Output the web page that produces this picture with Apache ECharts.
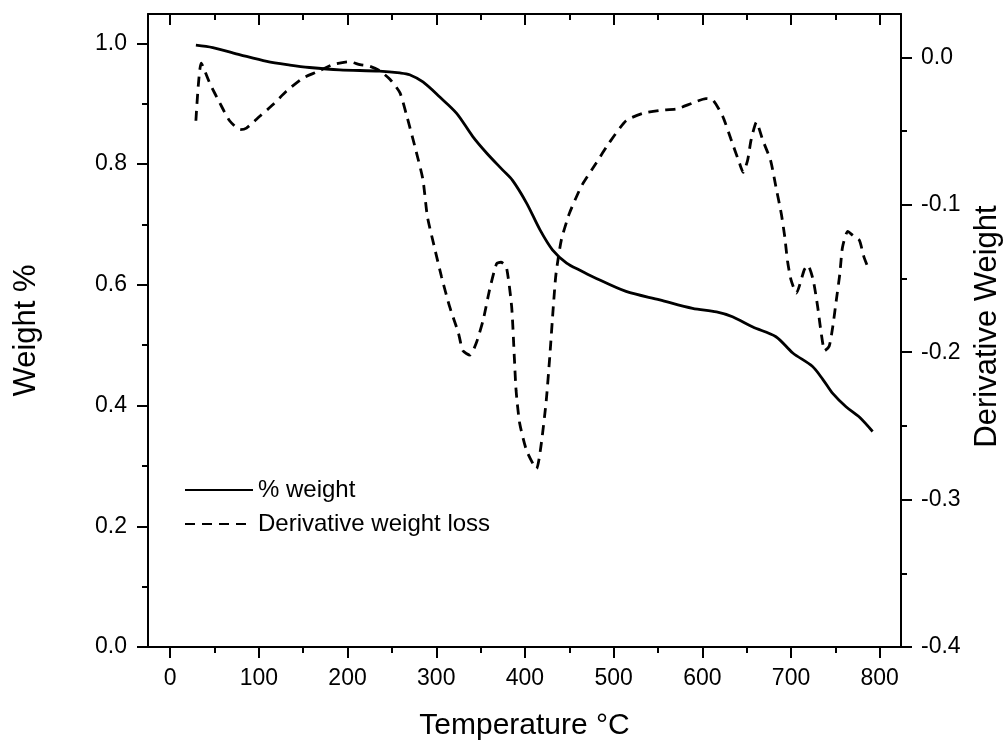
<!DOCTYPE html>
<html>
<head>
<meta charset="utf-8">
<script src="https://cdn.jsdelivr.net/npm/echarts@6/dist/echarts.min.js"></script>
<style>
html,body{margin:0;padding:0;background:#fff;}
#chart{width:1003px;height:740px;}
</style>
</head>
<body>
<div id="chart"></div>
<script>
// Weight % curve (solid)
const tempW = [29, 48, 79, 109, 135, 157, 191, 236, 259, 270, 285, 304, 323, 341, 357, 375, 386, 402, 417, 431, 447, 462, 477, 514, 552, 589, 616, 634, 657, 683, 702, 724, 736, 747, 762, 777, 792];
const weight = [0.997, 0.993, 0.981, 0.970, 0.964, 0.960, 0.956, 0.954, 0.951, 0.948, 0.936, 0.911, 0.884, 0.846, 0.818, 0.790, 0.773, 0.735, 0.691, 0.658, 0.636, 0.624, 0.613, 0.589, 0.575, 0.561, 0.555, 0.547, 0.530, 0.514, 0.487, 0.465, 0.443, 0.420, 0.398, 0.381, 0.357];

// Derivative weight loss curve (dashed)
const tempD = [29, 35, 45, 56, 67, 79, 86, 101, 116, 131, 150, 165, 183, 202, 214, 225, 236, 248, 259, 266, 277, 285, 290, 298, 306, 315, 325, 330, 338, 345, 353, 360, 368, 373, 379, 385, 388, 390, 394, 402, 413, 418, 424, 428, 432, 435, 441, 450, 460, 465, 480, 495, 514, 533, 552, 571, 589, 604, 612, 623, 632, 642, 646, 651, 655, 661, 668, 677, 683, 689, 693, 696, 700, 706, 715, 719, 725, 730, 734, 738, 743, 747, 751, 755, 758, 764, 770, 777, 782, 787];
const deriv = [-0.043, -0.004, -0.018, -0.031, -0.043, -0.049, -0.048, -0.040, -0.032, -0.023, -0.014, -0.010, -0.005, -0.003, -0.005, -0.006, -0.009, -0.015, -0.024, -0.038, -0.063, -0.083, -0.108, -0.129, -0.149, -0.169, -0.187, -0.199, -0.202, -0.194, -0.178, -0.158, -0.140, -0.139, -0.142, -0.169, -0.203, -0.226, -0.248, -0.267, -0.279, -0.264, -0.233, -0.203, -0.169, -0.147, -0.124, -0.106, -0.092, -0.086, -0.072, -0.058, -0.043, -0.038, -0.036, -0.035, -0.031, -0.028, -0.029, -0.040, -0.055, -0.072, -0.078, -0.070, -0.056, -0.044, -0.056, -0.070, -0.088, -0.106, -0.122, -0.138, -0.151, -0.160, -0.144, -0.141, -0.151, -0.169, -0.187, -0.199, -0.196, -0.183, -0.165, -0.147, -0.129, -0.118, -0.121, -0.124, -0.135, -0.143];

// Tick values
const xMajor = [0, 100, 200, 300, 400, 500, 600, 700, 800];
const xMinor = [50, 150, 250, 350, 450, 550, 650, 750];
const yLeftMajor = [0.0, 0.2, 0.4, 0.6, 0.8, 1.0];
const yLeftMinor = [0.1, 0.3, 0.5, 0.7, 0.9];
const yRightMajor = [-0.4, -0.3, -0.2, -0.1, 0.0];
const yRightMinor = [-0.35, -0.25, -0.15, -0.05];

const seriesNames = ['% weight', 'Derivative weight loss'];
const axisNames = { x: 'Temperature °C', yLeft: 'Weight %', yRight: 'Derivative Weight' };

const FONT = "'Liberation Sans', Arial, sans-serif";
const X_MIN = -25, X_MAX = 824;
const YL_MIN = 0, YL_MAX = 1.0486;
const YR_MIN = -0.4, YR_MAX = 0.0294;

const line = { show: true, onZero: false, lineStyle: { color: '#000', width: 2 } };
const noLine = { show: false, onZero: false };
const tickStyle = { color: '#000', width: 2 };

function xAx(pos, vals, len, inside, showLine, labels) {
  return {
    type: 'value', position: pos, min: X_MIN, max: X_MAX,
    axisLine: showLine ? line : noLine,
    axisTick: { show: true, inside: inside, length: len, customValues: vals, lineStyle: tickStyle },
    axisLabel: labels ? { show: true, customValues: vals, margin: 20, color: '#000', fontSize: 23, fontFamily: FONT } : { show: false },
    splitLine: { show: false }
  };
}
function yAx(pos, min, max, vals, len, showLine, labels, margin) {
  return {
    type: 'value', position: pos, min: min, max: max,
    axisLine: showLine ? line : noLine,
    axisTick: { show: true, inside: false, length: len, customValues: vals, lineStyle: tickStyle },
    axisLabel: labels ? { show: true, customValues: vals, margin: margin, color: '#000', fontSize: 23, fontFamily: FONT,
      formatter: v => v.toFixed(1) } : { show: false },
    splitLine: { show: false }
  };
}

const xAxes = [
  Object.assign(xAx('bottom', xMajor, 11, false, true, true), {
    name: axisNames.x, nameLocation: 'middle', nameGap: 64,
    nameTextStyle: { fontSize: 30, color: '#000', fontFamily: FONT }
  }),
  xAx('bottom', xMinor, 6, false, false, false),
  xAx('top', xMajor, 11, true, true, false),
  xAx('top', xMinor, 6, true, false, false)
];
const yAxes = [
  Object.assign(yAx('left', YL_MIN, YL_MAX, yLeftMajor, 11, true, true, 21), {
    name: axisNames.yLeft, nameLocation: 'middle', nameGap: 106, nameRotate: 90,
    nameTextStyle: { fontSize: 31, color: '#000', fontFamily: FONT }
  }),
  yAx('left', YL_MIN, YL_MAX, yLeftMinor, 6, false, false, 0),
  Object.assign(yAx('right', YR_MIN, YR_MAX, yRightMajor, 11, true, true, 20), {
    name: axisNames.yRight, nameLocation: 'middle', nameGap: 70, nameRotate: 90,
    nameTextStyle: { fontSize: 31, color: '#000', fontFamily: FONT, padding: [0, 0, 0, 8] }
  }),
  yAx('right', YR_MIN, YR_MAX, yRightMinor, 6, false, false, 0)
];

const chart = echarts.init(document.getElementById('chart'), null, { renderer: 'canvas' });
chart.setOption({
  animation: false,
  backgroundColor: '#fff',
  textStyle: { fontFamily: FONT },
  grid: { left: 148, right: 102, top: 14, bottom: 93, containLabel: false, outerBoundsMode: 'none' },
  legend: {
    data: seriesNames, orient: 'vertical', left: 179, top: 473,
    itemWidth: 68, itemHeight: 14, itemGap: 10,
    itemStyle: { opacity: 0 },
    textStyle: { fontSize: 24, color: '#000', fontFamily: FONT, lineHeight: 24 }
  },
  xAxis: xAxes,
  yAxis: yAxes,
  series: [
    {
      name: seriesNames[0], type: 'line', xAxisIndex: 0, yAxisIndex: 0,
      data: tempW.map((t, i) => [t, weight[i]]),
      symbol: 'none', smooth: 0.3,
      lineStyle: { color: '#000', width: 2.8, type: 'solid' },
      itemStyle: { color: '#000' }
    },
    {
      name: seriesNames[1], type: 'line', xAxisIndex: 0, yAxisIndex: 2,
      data: tempD.map((t, i) => [t, deriv[i]]),
      symbol: 'none', smooth: 0.2,
      lineStyle: { color: '#000', width: 2.8, type: [10, 7] },
      itemStyle: { color: '#000' }
    }
  ]
});
</script>
</body>
</html>
